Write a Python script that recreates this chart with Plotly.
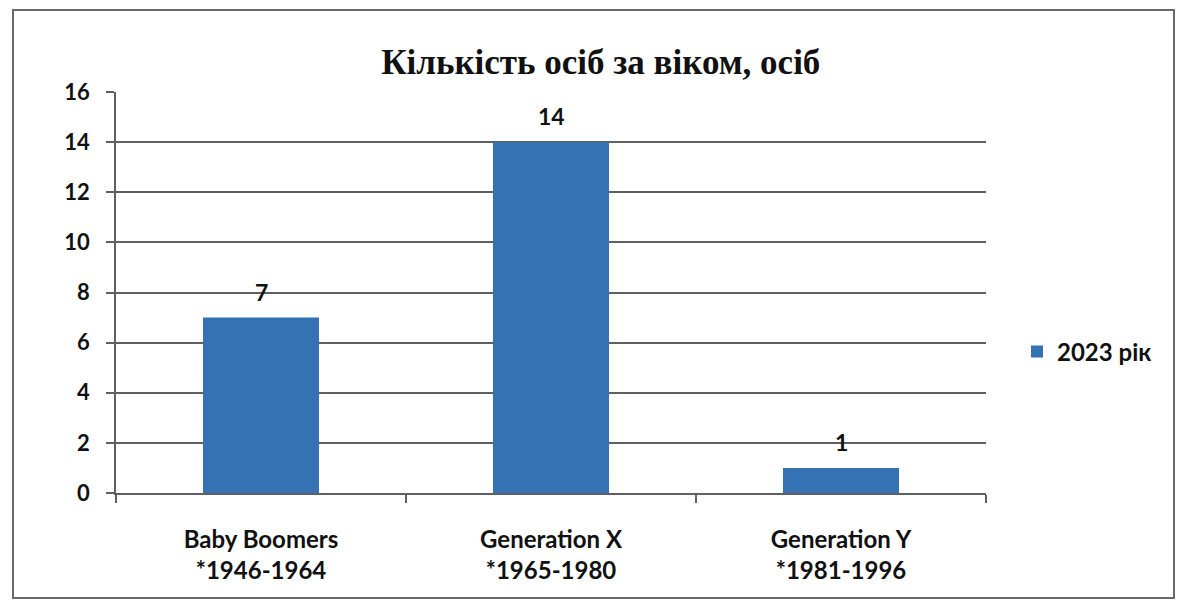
import plotly.graph_objects as go

categories = ["Baby Boomers<br>*1946-1964", "Generation X<br>*1965-1980", "Generation Y<br>*1981-1996"]
values_2023 = [7, 14, 1]
series_name = "2023 рік"
y_ticks = [0, 2, 4, 6, 8, 10, 12, 14, 16]
title_text = "Кількість осіб за віком, осіб"

W, H = 1178, 604
L, R, T, B = 116, 192, 92, 111
pw, ph = W - L - R, H - T - B
FONT = "Lato, Open Sans, sans-serif"

fig = go.Figure()
fig.add_trace(go.Bar(
    x=categories, y=values_2023, name="<b>" + series_name + "</b>",
    marker=dict(color="#3572b3", line=dict(width=0)),
    showlegend=True,
))

for c, v in zip(categories, values_2023):
    fig.add_annotation(x=c, y=v, xref="x", yref="y", text=f"<b>{v}</b>", showarrow=False,
                       yanchor="middle", yshift=26,
                       font=dict(family=FONT, size=23, color="#111111"))

fig.update_layout(
    width=W, height=H,
    margin=dict(l=L, r=R, t=T, b=B),
    paper_bgcolor="white", plot_bgcolor="white",
    bargap=0.6,
    title=dict(text="<b>" + title_text + "</b>", x=0.51, xanchor="center", y=1 - 62 / H, yanchor="middle",
               font=dict(family="Liberation Serif, Times New Roman, serif", size=35, color="#111111")),
    font=dict(family=FONT, size=20, color="#111111"),
    legend=dict(x=(1017 - L) / pw, y=(493 - 352) / ph, xanchor="left", yanchor="middle",
                font=dict(family=FONT, size=24, color="#111111"),
                itemwidth=30, bgcolor="rgba(0,0,0,0)"),
    yaxis=dict(range=[0, 16], tickvals=y_ticks, ticktext=[f"<b>{v}</b>" for v in y_ticks],
               showgrid=True, gridcolor="#606060", gridwidth=1.5,
               showline=True, linecolor="#606060", linewidth=1.5, ticks="outside", ticklen=8,
               tickcolor="#606060", tickwidth=1.5, zeroline=False,
               tickfont=dict(family=FONT, size=22, color="#111111"),
               ticklabelstandoff=12),
    xaxis=dict(tickvals=categories, ticktext=["<b>" + c + "</b>" for c in categories],
               showline=True, linecolor="#606060", linewidth=1.5, ticks="outside", tickson="boundaries",
               ticklen=8, tickcolor="#606060", tickwidth=1.5, showgrid=False,
               tickfont=dict(family=FONT, size=24, color="#111111"),
               ticklabelstandoff=24),
    shapes=[dict(type="rect", xref="paper", yref="paper",
                 x0=(13 - L) / pw, x1=(1174 - L) / pw, y0=(H - B - 598) / ph, y1=(H - B - 10) / ph,
                 line=dict(color="#6a6a6a", width=2), fillcolor="rgba(0,0,0,0)", layer="below")],
)

fig.write_html("out.html", config={"displayModeBar": False},
               post_script="document.body.style.margin='0';document.body.style.padding='0';")
